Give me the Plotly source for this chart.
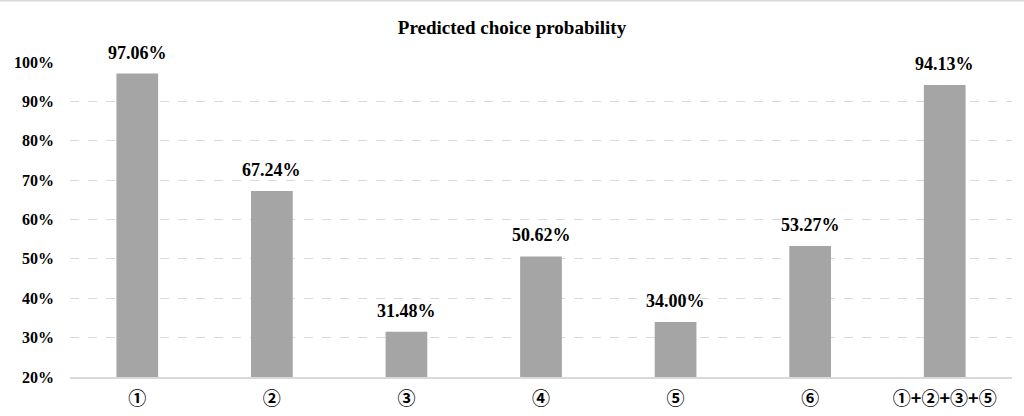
import plotly.graph_objects as go

categories = ["①", "②", "③", "④", "⑤", "⑥", "①+②+③+⑤"]
values = [97.06, 67.24, 31.48, 50.62, 34.00, 53.27, 94.13]
tick_vals = [20, 30, 40, 50, 60, 70, 80, 90, 100]
tick_text = ["20%", "30%", "40%", "50%", "60%", "70%", "80%", "90%", "100%"]
labels = [f"{v:.2f}%" for v in values]

serif = "Liberation Serif, Times New Roman, serif"

fig = go.Figure(go.Bar(
    x=categories, y=values,
    marker=dict(color="#A5A5A5", line=dict(width=0)),
    cliponaxis=False, hoverinfo="skip",
))

for c, v, t in zip(categories, values, labels):
    fig.add_annotation(x=c, y=v, text=f"<b>{t}</b>", showarrow=False,
                       yanchor="bottom", yshift=9,
                       font=dict(family=serif, size=18, color="#000000"))

fig.update_layout(
    width=1024, height=416,
    margin=dict(l=70, r=12, t=62, b=39, autoexpand=False),
    paper_bgcolor="white", plot_bgcolor="white",
    bargap=0.69,
    showlegend=False,
    title=dict(text="<b>Predicted choice probability</b>", x=0.5, xanchor="center",
               y=1 - 27 / 416, yanchor="middle",
               font=dict(family=serif, size=19, color="#000000")),
    xaxis=dict(showgrid=False, showline=True, linecolor="#D9D9D9", linewidth=2,
               ticks="", automargin=False,
               tickfont=dict(family="Noto Sans CJK JP", size=18, color="#000000", weight=600),
               ticklabelstandoff=4),
    yaxis=dict(range=[20, 100], tickvals=tick_vals, ticktext=tick_text,
               showgrid=True, gridcolor="#D9D9D9", griddash="dash", gridwidth=1,
               zeroline=False, showline=False, ticks="", automargin=False,
               tickfont=dict(family=serif, size=16, color="#000000", weight="bold"),
               ticklabelstandoff=15),
    shapes=[dict(type="line", xref="paper", yref="paper", x0=-70/942, x1=1+12/942,
                 y0=1 + 61.5/315, y1=1 + 61.5/315, line=dict(color="#D9D9D9", width=2))],
)

fig.write_html("out.html", config={"displayModeBar": False},
               post_script="document.body.style.margin='0';document.body.style.overflow='hidden';")
